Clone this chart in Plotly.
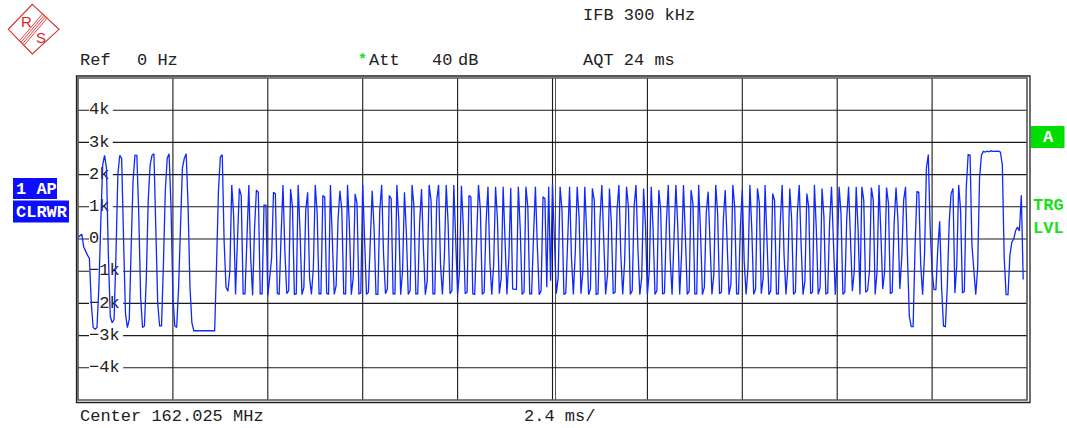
import numpy as np
import plotly.graph_objects as go

SWEEP_TIME_MS = 24.0
SWEEP_POINTS = 501
X_DIV_MS = 2.4
Y_TICKS_KHZ = [4, 3, 2, 1, 0, -1, -2, -3, -4]
Y_TICK_LABELS = ["4k", "3k", "2k", "1k", "0", "\u22121k", "\u22122k", "\u22123k", "\u22124k"]

# FM deviation in kHz, one value per sweep point
PREAMBLE_KHZ = [
    0.05, 0.10, 0.15, -0.25, -0.40, -0.50, -0.60, -2.00, -2.75, -2.80,
    -2.75, -1.50, 0.50, 2.30, 2.60, 2.20, -0.50, -2.40, -2.60, -2.50,
    -0.50, 2.00, 2.60, 2.50, 0.00, -2.30, -2.75, -2.50, -0.30, 1.80,
    2.60, 2.60, 0.80, -1.80, -2.75, -2.70, -1.20, 1.20, 2.30, 2.60,
    2.65, 0.50, -2.00, -2.70, -2.70, -0.80, 1.50, 2.50, 2.65, 1.00,
    -1.80, -2.70, -2.75, -1.50, 0.80, 2.20, 2.50, 2.65, 1.00, -1.50,
    -2.60, -2.85, -2.85, -2.85, -2.85, -2.85, -2.85, -2.85, -2.85, -2.85,
    -2.85, -2.85, -2.85, -0.80, 1.50, 2.55, 2.62, -0.10, -1.50,
]
DATA_KHZ_1 = [
    -1.62, -1.00, 1.68, 0.73, -1.72, -0.30, 1.57, 1.35, -1.70, -1.70,
    0.20, 1.68, -0.60, -1.75, 0.30, 1.52, 1.45, -1.70, -1.70, 1.05,
    1.05, -1.75, -1.20,
    -0.60, 1.45, 1.40, -1.68, -1.72, 0.10, 1.68, -0.40, -1.70, -1.60,
    1.55, 1.00, -1.72, -1.70, 1.68, 0.20, -1.73, -1.50, 0.90, 1.45,
    -1.20, -1.72, -0.90, 1.68, 0.80, -1.70, -1.70, 1.35, 1.30, -1.68,
    -1.72, 1.68, -0.30, -1.72, -1.45, 0.60, 1.50, 0.90, -1.70, -1.70,
    1.68, 0.40, -1.73, -1.20, 1.40, 1.10, -1.70, -1.68, 1.68, -0.20,
    -1.72, -1.65, 0.30, 1.50, 0.30, -1.72, -1.72, 0.90, 1.68, -0.50,
    -1.70, -1.55, 1.35, 1.25, -1.70, -1.70, 1.68, 0.60, -1.73, -1.00,
    1.45, 0.20, -1.72, -1.60, 1.68, 1.00, -1.70, -1.70, 0.50, 1.55,
    -0.30, -1.73, -1.30, 1.68, 1.20, -1.70, -1.70, 1.20, 1.68, -0.80,
    -1.72, -0.60, 1.68, 0.50, -1.70, -1.60, 1.68, -0.20,
]
DATA_KHZ_2 = [
    -1.72, -1.00, 1.65, 0.40, -1.70, -1.65, 1.35, 1.30, -1.70, -1.72,
    0.20, 1.68, 0.90, -1.72, -1.65, 0.50, 1.62, -0.70, -1.73, -0.80,
    1.62, 0.60, -1.70, -1.20, 1.62, 0.00, -1.72, -0.60, 1.58, -1.55,
    -1.57, -1.57, 1.62, 0.30, -1.72, -1.65, 1.62, 1.00, -1.70, -1.70,
    0.10, 1.62, -0.20, -1.73, -1.60, 1.31, 1.25, -1.50, 1.62, -1.30,
    1.70, 0.20, -1.70, -1.20, 1.62, 0.90, -1.72, -1.68, 0.30, 1.62,
    -0.60, -1.72, -0.40, 1.62, 0.70, -1.70, -1.00, 1.62, 0.20, -1.73,
    -1.55, 1.57, 1.20, -1.72, -1.70, 0.60, 1.68, -0.10, -1.72, -1.10,
    1.57, 0.50, -1.70, -1.65, 0.90, 1.68, -0.50, -1.72, -0.70, 1.62,
    1.00, -1.72, -1.60, 1.00, 1.68, -0.30, -1.73, -1.20, 1.57, 0.40,
]
DATA_KHZ_3 = [
    -1.72, -1.00, 1.62, 0.30, -1.72, -1.60, 1.52, 0.90, -1.70, -1.68,
    0.50, 1.68, -0.60, -1.73, -0.20, 1.68, 0.40, -1.72, -0.50, 1.68,
    0.10, -1.72, -1.62, 1.52, 1.10, -1.70, -1.70, 1.68, 0.20, -1.73,
    -1.50, 0.80, 1.47, -0.40, -1.72, -1.10, 1.68, 0.80, -1.70, -1.65,
    0.60, 1.52, -0.20, -1.73, -1.40, 1.68, 1.00, -1.70, -1.70, 0.40,
    1.52, -0.70, -1.72, -0.90, 1.68, 0.30, -1.72, -1.55, 1.57, 1.10,
    -1.70, -1.20, 1.68, -0.10, -1.73, -1.60, 1.41, 1.20, -1.70, -1.70,
    0.50, 1.68, -0.50, -1.72, -0.90, 1.57, 0.60, -1.72, -1.65, 0.80,
    1.68, -0.20, -1.73, -1.30, 1.41, 1.00, -1.70, -1.65, 1.68, 0.30,
    -1.72, -1.50, 1.57, 0.70, -1.70, -1.68, 0.50, 1.62, -0.30, -1.73,
    -0.60, 1.62, 0.80, -1.72, -1.65, 0.60, 1.62, -0.20, -1.62, -1.00,
    1.62, 0.30, -1.72, 1.62, 1.20, -1.65, -1.60, -1.00, 1.60, 1.20,
    -1.72, -1.00, 1.68, 0.20, -1.55, -1.00, 1.60, 1.10, -1.70, -1.65,
    0.50, 1.60, 0.58, -1.55, -0.60, 1.20, 1.62,
]
TAIL_KHZ = [
    -0.50, -2.40, -2.72, -2.72, -0.30, 1.47, 1.45, -0.80, -1.73, -0.50,
    2.20, 2.62, 0.30, -1.00, -1.57, -1.57, -0.30, 0.55, -1.50, -2.70,
    -2.72, -1.50, 0.50, 1.41, 1.57, -1.68, -0.80, 1.68, 0.90, -1.68,
    -1.62, 1.60, 2.62, 2.60, -0.20, -0.84, -1.73, -0.90, 1.90, 2.60,
    2.72, 2.70, 2.73, 2.71, 2.74, 2.72, 2.73, 2.72, 2.73, 2.70,
    2.30, -0.60, -1.73, -1.73, -0.50, -0.10, 0.00, 0.26, 0.37, 0.25,
    1.36, -1.26,
]

trace_khz = PREAMBLE_KHZ + DATA_KHZ_1 + DATA_KHZ_2 + DATA_KHZ_3 + TAIL_KHZ
t_ms = np.arange(len(trace_khz)) * SWEEP_TIME_MS / (SWEEP_POINTS - 1)

# ---------------- layout helpers ----------------
W, H = 1067, 428
ML, MR, MT, MB = 78, 40, 78, 28
PW, PH = W - ML - MR, H - MT - MB


def PX(x):
    return (x - ML) / PW


def PY(y):
    return (H - MB - y) / PH


FONT = "Liberation Mono, Courier New, monospace"
TXT = "#222222"
GRID = "#1a1a1a"
BLUE = "#0d0dff"
GREEN = "#1adf1a"

shapes = []
# vertical grid
for k in range(1, 10):
    shapes.append(dict(type="line", xref="x", yref="paper", x0=k * X_DIV_MS, x1=k * X_DIV_MS,
                       y0=0, y1=1, line=dict(color=GRID, width=1.1), layer="below"))
shapes.append(dict(type="line", xref="paper", yref="paper", x0=PX(555.5), x1=PX(555.5),
                   y0=0, y1=1, line=dict(color="#555", width=1), layer="below"))
# horizontal grid
for v in Y_TICKS_KHZ:
    shapes.append(dict(type="line", xref="paper", yref="y", x0=0, x1=1, y0=v, y1=v,
                       line=dict(color=GRID, width=1.1), layer="below"))
# white boxes behind the level labels
for v, lab in zip(Y_TICKS_KHZ, Y_TICK_LABELS):
    yc = v
    shapes.append(dict(type="rect", xref="paper", yref="y", x0=PX(89), x1=PX(91 + 10.4 * len(lab) + 1),
                       y0=yc - 0.24, y1=yc + 0.24, fillcolor="white", line=dict(width=0), layer="below"))
# frame (double line)
shapes.append(dict(type="rect", xref="paper", yref="paper", x0=0, x1=1, y0=0, y1=1,
                   line=dict(color="#555", width=1.6), layer="above"))
shapes.append(dict(type="rect", xref="paper", yref="paper", x0=PX(76.5), x1=PX(1030), y0=PY(402.5), y1=PY(76),
                   line=dict(color="#222", width=1.3), layer="above"))

# left blue boxes
shapes.append(dict(type="rect", xref="paper", yref="paper", x0=PX(13), x1=PX(57), y0=PY(199), y1=PY(178),
                   fillcolor=BLUE, line=dict(width=0)))
shapes.append(dict(type="rect", xref="paper", yref="paper", x0=PX(13), x1=PX(69), y0=PY(222.5), y1=PY(200.5),
                   fillcolor=BLUE, line=dict(width=0)))
# green A box
shapes.append(dict(type="rect", xref="paper", yref="paper", x0=PX(1031), x1=PX(1064.5), y0=PY(148), y1=PY(126),
                   fillcolor="#00dd00", line=dict(width=0)))

# R&S logo
RED = "#d42a2a"
dia = [(32.3, 4.3), (59, 29.3), (32.3, 54), (8.3, 29.3)]
path = "M " + " L ".join(f"{PX(x):.5f},{PY(y):.5f}" for x, y in dia) + " Z"
shapes.append(dict(type="path", xref="paper", yref="paper", path=path, line=dict(color=RED, width=1.1)))
for k in range(4):
    x0, y0 = 42.5 + 1.5 * k, 13.8 + 1.5 * k
    x1, y1 = 19.5 + 1.5 * k, 40.8 + 1.5 * k
    shapes.append(dict(type="line", xref="paper", yref="paper", x0=PX(x0), y0=PY(y0), x1=PX(x1), y1=PY(y1),
                       line=dict(color=RED, width=0.9)))

annotations = []


def ann(text, x, y, size=17, color=TXT, bold=False, family=FONT, anchor="left"):
    if bold:
        text = f"<b>{text}</b>"
    annotations.append(dict(text=text, x=PX(x), y=PY(y), xref="paper", yref="paper", showarrow=False,
                            xanchor=anchor, yanchor="middle", font=dict(family=family, size=size, color=color)))


ann("IFB 300 kHz", 581, 16)
ann("Ref", 78, 61)
ann("0 Hz", 135, 61)
ann("*", 356, 60, size=15, color=GREEN, bold=True)
ann("Att", 367, 61)
ann("40", 430, 61)
ann("dB", 456, 61)
ann("AQT 24 ms", 581, 61)
ann("Center 162.025 MHz", 78, 416)
ann("2.4 ms/", 522, 416)
ann("1 AP", 14, 189, size=17, color="white", bold=True)
ann("CLRWR", 13.5, 212, size=17, color="white", bold=True)
ann("A", 1048, 137.5, size=17, color="white", bold=True, anchor="center")
ann("TRG", 1031, 205.5, size=17, color=GREEN, bold=True)
ann("LVL", 1031, 228, size=17, color=GREEN, bold=True)
ann("R", 26, 22, size=15, color=RED, family="Liberation Sans", anchor="center")
ann("S", 40.5, 37, size=15, color=RED, family="Liberation Sans", anchor="center")

fig = go.Figure()
# level labels (drawn under the trace)
fig.add_trace(go.Scatter(x=[(89 - ML) / PW * SWEEP_TIME_MS] * len(Y_TICKS_KHZ), y=Y_TICKS_KHZ,
                         mode="text", text=Y_TICK_LABELS, textposition="middle right",
                         textfont=dict(family=FONT, size=17, color=TXT), hoverinfo="skip",
                         showlegend=False))
fig.add_trace(go.Scatter(x=t_ms, y=trace_khz, mode="lines",
                         line=dict(color="#1028ff", width=1.3), showlegend=False))

fig.update_layout(
    width=W, height=H,
    margin=dict(l=ML, r=MR, t=MT, b=MB, pad=0),
    paper_bgcolor="white", plot_bgcolor="white",
    xaxis=dict(range=[0, SWEEP_TIME_MS], showgrid=False, zeroline=False, showticklabels=False,
               ticks="", showline=False, fixedrange=True),
    yaxis=dict(range=[-5, 5], showgrid=False, zeroline=False, showticklabels=False,
               ticks="", showline=False, fixedrange=True),
    shapes=shapes,
    annotations=annotations,
    showlegend=False,
)

fig.write_html("out.html", config={"displayModeBar": False, "responsive": False})
